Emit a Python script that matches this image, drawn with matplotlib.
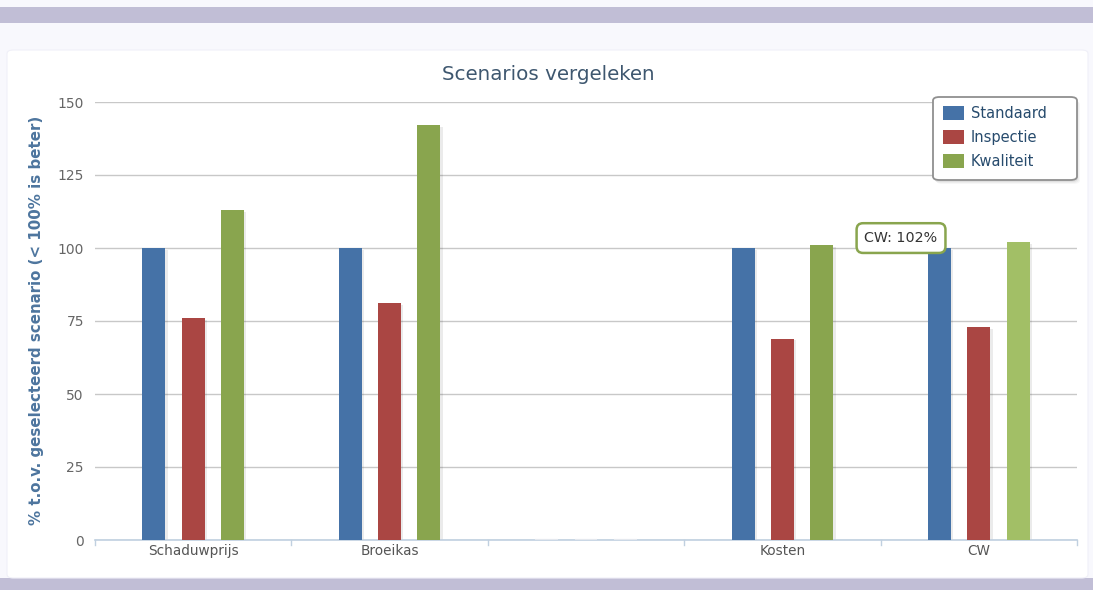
import matplotlib
matplotlib.use("Agg")
import matplotlib.pyplot as plt
from matplotlib.patches import Rectangle, FancyBboxPatch, Patch
import numpy as np

categories = ["Schaduwprijs", "Broeikas", "", "Kosten", "CW"]
series_names = ["Standaard", "Inspectie", "Kwaliteit"]
standaard = [100, 100, 0, 100, 100]
inspectie = [76, 81, 0, 69, 73]
kwaliteit = [113, 142, 0, 101, 102]
yticks = [0, 25, 50, 75, 100, 125, 150]
colors = ["#4572A7", "#AA4643", "#89A54E"]
hover_color = "#A2BF66"
title = "Scenarios vergeleken"
ylabel = "% t.o.v. geselecteerd scenario (< 100% is beter)"
tooltip = "CW: 102%"

W, H = 1093, 590
fig = plt.figure(figsize=(W / 100, H / 100), dpi=100, facecolor="#F8F8FD")

def fx(px):
    return px / W

def fy(py):
    return 1 - py / H

# purple bands
fig.patches.append(Rectangle((0, fy(23)), 1, (23 - 7) / H, transform=fig.transFigure,
                             facecolor="#C1BED6", edgecolor="none", zorder=-10))
fig.patches.append(Rectangle((0, fy(590)), 1, (590 - 578) / H, transform=fig.transFigure,
                             facecolor="#C1BED6", edgecolor="none", zorder=-10))
# white panel
fig.patches.append(FancyBboxPatch((fx(7), fy(578)), fx(1088) - fx(7), (578 - 50) / H,
                                  boxstyle="round,pad=0,rounding_size=0.006",
                                  transform=fig.transFigure, facecolor="white",
                                  edgecolor="#F0F0F8", linewidth=0.8, zorder=-10))

ax = fig.add_axes([fx(95), fy(540), fx(1077) - fx(95), (540 - 102) / H])
ax.set_facecolor("none")
ax.set_zorder(1)

x = np.arange(len(categories))
offsets = [-0.2, 0.0, 0.2]
bw = 0.117
all_series = [standaard, inspectie, kwaliteit]
for i, (vals, c) in enumerate(zip(all_series, colors)):
    for j, v in enumerate(vals):
        col = c
        if i == 2 and j == 4:
            col = hover_color
        xpos = x[j] + offsets[i]
        if v > 0:
            ax.bar(xpos + 0.012, v - 0.6, width=bw, bottom=0, color="#000000",
                   alpha=0.08, zorder=2, linewidth=0)
            ax.bar(xpos, v, width=bw, color=col, zorder=3, linewidth=0)
        else:
            ax.bar(xpos, v, width=bw, color=col, zorder=3,
                   edgecolor="#E4E8EE", linewidth=1.6)

ax.set_xlim(-0.5, len(categories) - 0.5)
ax.set_ylim(0, 150)
ax.set_yticks(yticks)
ax.set_yticklabels([str(t) for t in yticks], color="#666666", fontsize=10)
ax.tick_params(axis="y", length=0, pad=8)
ax.yaxis.grid(True, color="#C8C8C8", linewidth=1.0, zorder=0)
ax.set_axisbelow(True)

ax.set_xticks(x)
ax.set_xticklabels(categories, color="#555555", fontsize=9.8)
ax.tick_params(axis="x", length=0, pad=3)
for b in np.arange(-0.5, len(categories), 1.0):
    ax.plot([b, b], [0, -1.7], color="#C0D0E0", linewidth=1, clip_on=False, zorder=4)

for s in ["top", "right", "left"]:
    ax.spines[s].set_visible(False)
ax.spines["bottom"].set_color("#C0D0E0")
ax.spines["bottom"].set_linewidth(1.2)

fig.text(fx(548), fy(75), title, ha="center", va="center", fontsize=14.3, color="#3E576F")
fig.text(fx(37), fy(320), ylabel, ha="center", va="center", rotation=90,
         fontsize=10.8, fontweight="bold", color="#4D759E")

# legend frame (drawn manually for the wider box) with soft shadow
for k, a in enumerate([0.05, 0.04, 0.03]):
    fig.patches.append(FancyBboxPatch((fx(933 + 1 + k), fy(180 + 2 + k)), (144) / W, (83) / H,
                                      boxstyle="round,pad=0,rounding_size=0.006",
                                      transform=fig.transFigure, facecolor="#000000",
                                      edgecolor="none", alpha=a, zorder=4))
fig.patches.append(FancyBboxPatch((fx(933), fy(180)), 144 / W, 83 / H,
                                  boxstyle="round,pad=0,rounding_size=0.006",
                                  transform=fig.transFigure, facecolor="white",
                                  edgecolor="#909090", linewidth=1.3, zorder=4))

handles = [Patch(facecolor=c, edgecolor="none") for c in colors]
leg = fig.legend(handles, series_names, loc="upper left",
                 bbox_to_anchor=(fx(936), fy(99)), frameon=False,
                 fontsize=10.5, handlelength=1.4, handleheight=1.1, handletextpad=0.5,
                 labelspacing=0.62, borderpad=0.5, borderaxespad=0)
leg.set_zorder(5)
for t in leg.get_texts():
    t.set_color("#274B6D")

ax.text(3.604, 103.4, tooltip, ha="center", va="center", fontsize=10.3, color="#333333",
        zorder=6,
        bbox=dict(boxstyle="round,pad=0.55,rounding_size=0.45", facecolor="white",
                  edgecolor="#89A54E", linewidth=1.8))

fig.savefig("out.png", dpi=100, facecolor=fig.get_facecolor())
